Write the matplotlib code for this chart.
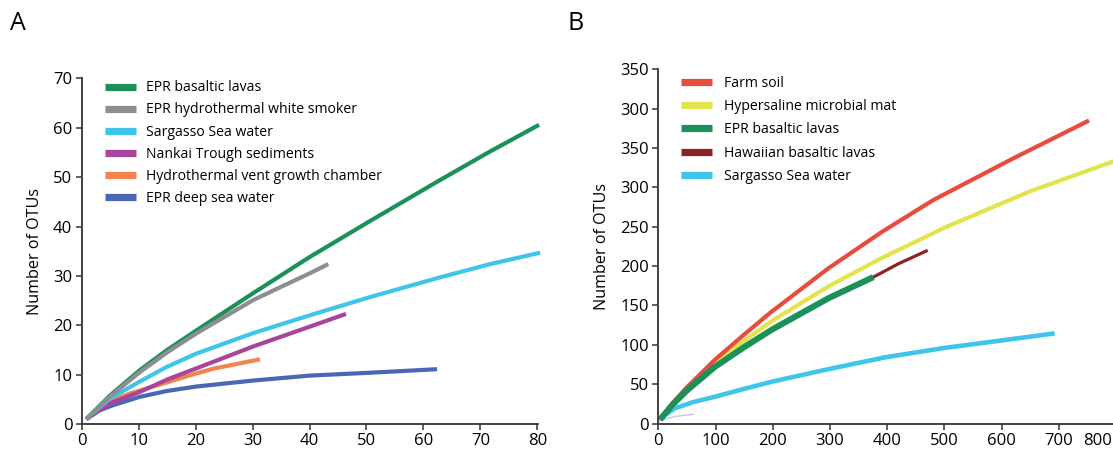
import matplotlib
matplotlib.use("Agg")
import matplotlib.pyplot as plt

plt.rcParams['font.family'] = ['Open Sans', 'DejaVu Sans']

# ---- Panel A data ----
a_labels = ["EPR basaltic lavas", "EPR hydrothermal white smoker", "Sargasso Sea water",
            "Nankai Trough sediments", "Hydrothermal vent growth chamber", "EPR deep sea water"]
a_colors = ["#1b9159", "#8d8e92", "#3fc4ea", "#a8449c", "#f2844c", "#4a67b3"]
a_green_x = [0.8, 5, 10.2, 15, 20.2, 30.1, 40, 50.9, 62.6, 71.4, 80.3]
a_green_y = [1, 5.8, 10.9, 15.0, 19.0, 26.5, 33.8, 41.3, 49.2, 55.0, 60.6]
a_gray_x = [0.8, 5, 10.2, 15, 20.2, 30.1, 40, 43.3]
a_gray_y = [1, 5.6, 10.5, 14.5, 18.4, 25.1, 30.5, 32.4]
a_cyan_x = [0.8, 5, 10.2, 15, 20.2, 30.1, 40, 50.9, 62.6, 71.4, 80.5]
a_cyan_y = [1, 5.2, 8.6, 11.6, 14.3, 18.4, 22.0, 25.8, 29.6, 32.3, 34.7]
a_mag_x = [0.8, 5, 10.2, 15, 20.2, 30.1, 40, 46.4]
a_mag_y = [1, 4.2, 6.5, 9.0, 11.3, 15.7, 19.7, 22.3]
a_orange_x = [0.8, 5, 8.5, 14.3, 20, 23.1, 31.3]
a_orange_y = [1, 4.6, 6.2, 8.2, 10.2, 11.2, 13.1]
a_blue_x = [0.8, 3, 5.6, 10.2, 15, 20.2, 30.1, 40, 50.9, 62.4]
a_blue_y = [1, 2.7, 3.85, 5.5, 6.7, 7.6, 8.8, 9.8, 10.4, 11.1]
a_xticks = [0, 10, 20, 30, 40, 50, 60, 70, 80]
a_yticks = [0, 10, 20, 30, 40, 50, 60, 70]

# ---- Panel B data ----
b_labels = ["Farm soil", "Hypersaline microbial mat", "EPR basaltic lavas",
            "Hawaiian basaltic lavas", "Sargasso Sea water"]
b_colors = ["#e84c3d", "#e3e34b", "#1b9159", "#8c2225", "#3fc4ea"]
b_red_x = [3, 25, 50, 99, 150, 198, 297, 390, 481, 621, 753]
b_red_y = [5, 26, 46, 81, 113, 142, 197, 243, 284, 337, 385]
b_yel_x = [3, 25, 50, 99, 150, 198, 297, 390, 504, 650, 784, 796]
b_yel_y = [5, 25, 45, 77, 105, 130, 174, 210, 250, 295, 330, 333]
b_grn_x = [3, 25, 50, 99, 150, 198, 297, 376]
b_grn_y = [5, 24, 42, 72, 97, 119, 159, 186]
b_haw_x = [3, 25, 50, 99, 150, 198, 297, 376, 420, 471]
b_haw_y = [5, 24, 42, 72, 97, 119, 159, 186, 203, 220]
b_cyan_x = [3, 12, 29, 60, 99, 150, 198, 297, 396, 500, 600, 693]
b_cyan_y = [5, 11, 19.3, 27, 34, 44, 53, 69, 84, 96, 105.5, 114.5]
b_faint_x = [3, 30, 61]
b_faint_y = [4, 9, 11.7]
b_xticks = [0, 100, 200, 300, 400, 500, 600, 700]
b_xtick_last = "800"
b_yticks = [0, 50, 100, 150, 200, 250, 300, 350, 400, 450]
b_yticklabels = ["0", "50", "100", "150", "200", "250", "300", "350", "300", "350"]

W, H = 1113, 450
fig = plt.figure(figsize=(W / 100, H / 100), dpi=100)

axA = fig.add_axes([81.7 / W, 26 / H, 456.2 / W, 345.6 / H])
axB = fig.add_axes([658.3 / W, 26.5 / H, (W - 658.3) / W, 354.2 / H])

def style(ax):
    for s in ["top", "right"]:
        ax.spines[s].set_visible(False)
    for s in ["left", "bottom"]:
        ax.spines[s].set_linewidth(1.3)
        ax.spines[s].set_color("#333333")
    ax.tick_params(direction="out", length=4.3, width=1.1, labelsize=12, colors="#333333",
                   labelcolor="black", pad=2.5)

series_a = [(a_green_x, a_green_y), (a_gray_x, a_gray_y), (a_cyan_x, a_cyan_y),
            (a_mag_x, a_mag_y), (a_orange_x, a_orange_y), (a_blue_x, a_blue_y)]
handles = {}
for i in [5, 4, 3, 2, 0, 1]:
    x, y = series_a[i]
    ln, = axA.plot(x, y, color=a_colors[i], lw=3.0, solid_capstyle="butt",
                   solid_joinstyle="round", clip_on=False)
    handles[i] = ln
axA.set_xlim(0, 80.1)
axA.set_ylim(0, 70)
axA.set_xticks(a_xticks)
axA.set_yticks(a_yticks)
style(axA)
axA.set_ylabel("Number of OTUs", fontsize=11.6, labelpad=7)
legA = axA.legend([handles[i] for i in range(6)], a_labels, loc="upper left",
                  bbox_to_anchor=(0.05, 0.994), frameon=False, fontsize=10.1,
                  handlelength=2.25, handletextpad=0.68, labelspacing=0.5,
                  borderpad=0, borderaxespad=0)
for h in legA.get_lines():
    h.set_linewidth(5.2)
    h.set_solid_capstyle("butt")

series_b = [(b_red_x, b_red_y), (b_yel_x, b_yel_y), (b_grn_x, b_grn_y),
            (b_haw_x, b_haw_y), (b_cyan_x, b_cyan_y)]
axB.plot(b_faint_x, b_faint_y, color="#c9c3e6", lw=1.0)
hb = {}
for i, lw in [(4, 3.3), (3, 2.3), (1, 3.0), (0, 3.0), (2, 4.4)]:
    x, y = series_b[i]
    ln, = axB.plot(x, y, color=b_colors[i], lw=lw, solid_capstyle="butt",
                   solid_joinstyle="round")
    hb[i] = ln
axB.set_xlim(0, (W - 658.3) / 0.572)
axB.set_ylim(0, 450)
axB.set_xticks(b_xticks)
axB.set_yticks(b_yticks)
axB.set_yticklabels(b_yticklabels)
style(axB)
axB.annotate(b_xtick_last, xy=((1098 - 658.3) / (W - 658.3), 0), xycoords="axes fraction",
             xytext=(0, -6.8), textcoords="offset points", ha="center", va="top",
             fontsize=12)
axB.set_ylabel("Number of OTUs", fontsize=11.6, labelpad=7)
legB = axB.legend([hb[i] for i in range(5)], b_labels, loc="upper left",
                  bbox_to_anchor=(0.049, 0.982), frameon=False, fontsize=10.1,
                  handlelength=2.25, handletextpad=0.85, labelspacing=0.59,
                  borderpad=0, borderaxespad=0)
for h in legB.get_lines():
    h.set_linewidth(5.2)
    h.set_solid_capstyle("butt")

fig.text(10 / W, 1 - 24 / H, "A", fontsize=18, va="center", ha="left")
fig.text(567 / W, 1 - 24 / H, "B", fontsize=18, va="center", ha="left")

fig.savefig("out.png", dpi=100)
